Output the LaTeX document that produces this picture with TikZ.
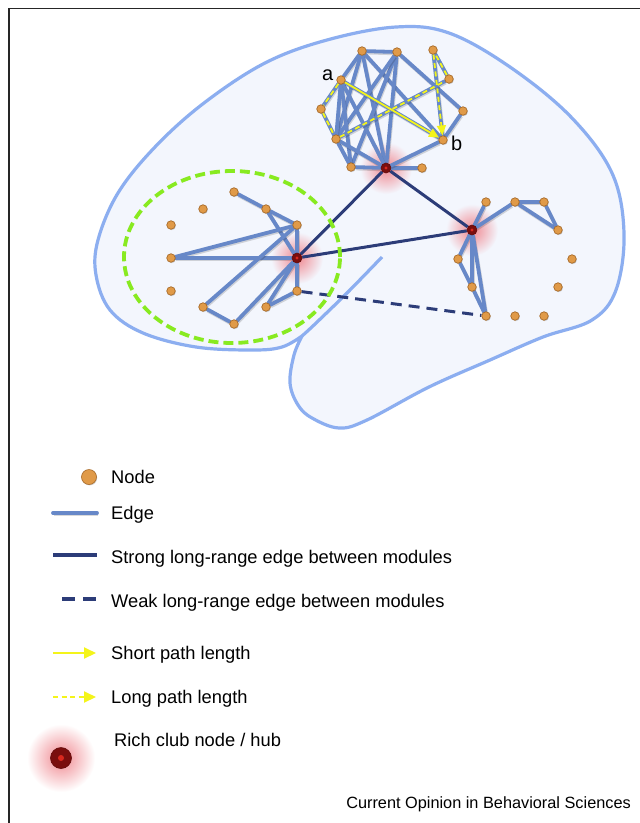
\documentclass[tikz,border=0pt]{standalone}
\usepackage{fontspec}
\setmainfont{Liberation Sans}
\usetikzlibrary{arrows.meta,shadows}
\definecolor{brainfill}{HTML}{F3F6FD}
\definecolor{braindraw}{HTML}{8CAEF0}
\definecolor{edgeblue}{HTML}{6788C8}
\definecolor{navy}{HTML}{2C3C78}
\definecolor{nodeorange}{HTML}{E09A48}
\definecolor{nodeborder}{HTML}{A86A28}
\definecolor{hubdark}{HTML}{7A0E0E}
\definecolor{hubred}{HTML}{D8281E}
\definecolor{pathyellow}{HTML}{F4F41A}
\definecolor{modgreen}{HTML}{88EA20}
\definecolor{glowred}{HTML}{F08890}
\pgfdeclarelayer{bg}
\pgfdeclarelayer{edgelayer}
\pgfsetlayers{bg,edgelayer,main}
\tikzset{
  dot/.style={circle, fill=nodeorange, draw=nodeborder, line width=0.7pt, minimum size=8.5pt, inner sep=0pt,
    drop shadow={shadow xshift=0.7pt, shadow yshift=-0.9pt, opacity=0.35}},
  hub/.style={circle, fill=hubdark, draw=hubdark!80!black, line width=0.6pt, minimum size=10pt, inner sep=0pt},
  edge/.style={draw=edgeblue, line width=3.8pt, line cap=round,
    preaction={draw=black, opacity=0.15, line width=3.8pt, transform canvas={xshift=0.8pt, yshift=-1.4pt}}},
  strong/.style={draw=navy, line width=3pt},
  weak/.style={draw=navy, line width=3pt, dash pattern=on 11pt off 7pt},
  shortpath/.style={draw=pathyellow, line width=1.8pt, -{Triangle[length=10pt,width=9pt]}},
  longpath/.style={draw=pathyellow, line width=1.8pt, dash pattern=on 5pt off 3.5pt, -{Triangle[length=10pt,width=9pt]}},
  module/.style={draw=modgreen, line width=3.8pt, dash pattern=on 10pt off 5pt},
  brain/.style={draw=braindraw, line width=3.2pt, fill=brainfill, line join=round},
  lbl/.style={font=\fontsize{18.3}{22}\selectfont, anchor=base west, inner sep=0pt},
  ablbl/.style={font=\fontsize{20}{24}\selectfont, anchor=base west, inner sep=0pt},
}
\begin{document}
\begin{tikzpicture}[x=1pt,y=-1pt]
\useasboundingbox (0,0) rectangle (640,823);
\begin{pgfonlayer}{bg}
\fill[white] (0,0) rectangle (640,823);
% frame
\draw[line width=1.5pt, black!85] (640,8.5) -- (9,8.5) -- (9,823);
% brain outline
\filldraw[brain] plot[smooth, tension=0.6] coordinates {(302,336) (294,355) (290,383) (298,405) (312,418) (339,428) (367,420) (429,387) (490,360) (543,337) (592,320) (616,290) (624,233) (612,173) (571,117) (510,67) (449,33) (396,27) (327,40) (265,63) (204,103) (155,147) (118,193) (98,240) (96,275) (110,310) (143,333) (196,347) (253,350) (282,347) (302,336)} -- cycle;
\draw[brain, fill=none] plot[smooth] coordinates {(302,336) (314,325) (347,293) (382,257)};
% glows
\shade[inner color=glowred, outer color=brainfill] (386,168) circle (26pt);
\shade[inner color=glowred, outer color=brainfill] (297,258) circle (26pt);
\shade[inner color=glowred, outer color=brainfill] (472,230) circle (26pt);
\shade[inner color=glowred, outer color=white] (61,758) circle (34pt);
\end{pgfonlayer}
% top module nodes
\node[dot] (n1) at (362,51) {};
\node[dot] (n2) at (397,52) {};
\node[dot] (n3) at (433,50) {};
\node[dot] (a) at (341,80) {};
\node[dot] (n4) at (449,79) {};
\node[dot] (n5) at (321,109) {};
\node[dot] (n6) at (463,111) {};
\node[dot] (n7) at (336,139) {};
\node[dot] (b) at (443,140) {};
\node[dot] (n8) at (351,167) {};
\node[hub] (h1) at (386,168) {};
\node[dot] (n9) at (422,168) {};
% left module nodes
\node[dot] (L1) at (234,192) {};
\node[dot] (L2) at (203,209) {};
\node[dot] (L3) at (266,209) {};
\node[dot] (L4) at (171,225) {};
\node[dot] (L5) at (297,225) {};
\node[dot] (L6) at (171,258) {};
\node[hub] (hL) at (297,258) {};
\node[dot] (L7) at (171,291) {};
\node[dot] (L8) at (297,291) {};
\node[dot] (L9) at (203,307) {};
\node[dot] (L10) at (266,307) {};
\node[dot] (L11) at (234,324) {};
% right module nodes
\node[hub] (hR) at (472,230) {};
\node[dot] (R1) at (486,202) {};
\node[dot] (R2) at (515,202) {};
\node[dot] (R3) at (544,202) {};
\node[dot] (R4) at (558,230) {};
\node[dot] (R5) at (458,259) {};
\node[dot] (R6) at (572,259) {};
\node[dot] (R7) at (472,287) {};
\node[dot] (R8) at (558,287) {};
\node[dot] (R9) at (486,316) {};
\node[dot] (R10) at (515,316) {};
\node[dot] (R11) at (544,316) {};
% hub centres
\foreach \h in {h1,hL,hR} \fill[hubred] (\h) circle (1.6pt);
% labels a, b
\node[ablbl] (la) at (322,80.5) {a};
\node[ablbl] (lb) at (451,150) {b};
% edges
\begin{pgfonlayer}{edgelayer}
\foreach \u/\v in {n1/n2, n1/a, n1/n7, n1/h1, n1/b, n2/n8, n2/h1, n2/n6, n2/n7, a/n5, n5/n7, a/n7, a/n8, a/h1, a/b, n7/n8, n7/h1, n8/h1, h1/n9, h1/b, n6/b, n3/b, n3/n4, n4/n7,
  L1/L3, L3/L5, L3/hL, L5/L6, L6/hL, L5/hL, L9/L5, L9/L11, L11/hL, L10/hL, L10/L8, L8/hL,
  hR/R1, hR/R2, R2/R3, R2/R4, R3/R4, hR/R5, R5/R7, hR/R7, R7/R9, hR/R9}
  \draw[edge] (\u) -- (\v);
\draw[strong] (hL) -- (h1);
\draw[strong] (h1) -- (hR);
\draw[strong] (hL) -- (hR);
\draw[weak] (L8) -- (R9);
\end{pgfonlayer}
% paths a -> b
\draw[shortpath] (a) -- (b);
\draw[longpath] (a) -- (n5) -- (n7) -- (n4) -- (n3) -- (b);
% module boundary
\draw[module] (232,257) ellipse [x radius=108pt, y radius=86pt];
% legend
\node[dot, minimum size=15pt, line width=0.6pt] (lnode) at (89,477) {};
\node[lbl] (tnode) at (111,483.5) {Node};
\coordinate (le1) at (53,513); \coordinate (le2) at (97,513);
\draw[edge] (le1) -- (le2);
\node[lbl] (tedge) at (111,519.5) {Edge};
\coordinate (ls1) at (53,555); \coordinate (ls2) at (97,555);
\draw[strong, line width=3.4pt] (ls1) -- (ls2);
\node[lbl] (tstrong) at (111,563.5) {Strong long-range edge between modules};
\coordinate (lw1) at (62,599); \coordinate (lw2) at (97,599);
\draw[weak, line width=3.4pt, dash pattern=on 13pt off 8pt] (lw1) -- (lw2);
\node[lbl] (tweak) at (111,607.5) {Weak long-range edge between modules};
\coordinate (lp1) at (53,653); \coordinate (lp2) at (96,653);
\draw[shortpath, line width=2pt, -{Triangle[length=12pt,width=11pt]}] (lp1) -- (lp2);
\node[lbl] (tshort) at (111,659.5) {Short path length};
\coordinate (lq1) at (53,697); \coordinate (lq2) at (96,697);
\draw[longpath, line width=2pt, -{Triangle[length=12pt,width=11pt]}] (lq1) -- (lq2);
\node[lbl] (tlong) at (111,703) {Long path length};
\node[hub, minimum size=21pt] (lhub) at (61,758) {};
\fill[hubred] (lhub) circle (3pt);
\node[lbl] (thub) at (114,746.5) {Rich club node / hub};
\node[font=\fontsize{16.3}{19}\selectfont, anchor=base east, inner sep=0pt] (credit) at (631,808.5) {Current Opinion in Behavioral Sciences};
\end{tikzpicture}
\end{document}
